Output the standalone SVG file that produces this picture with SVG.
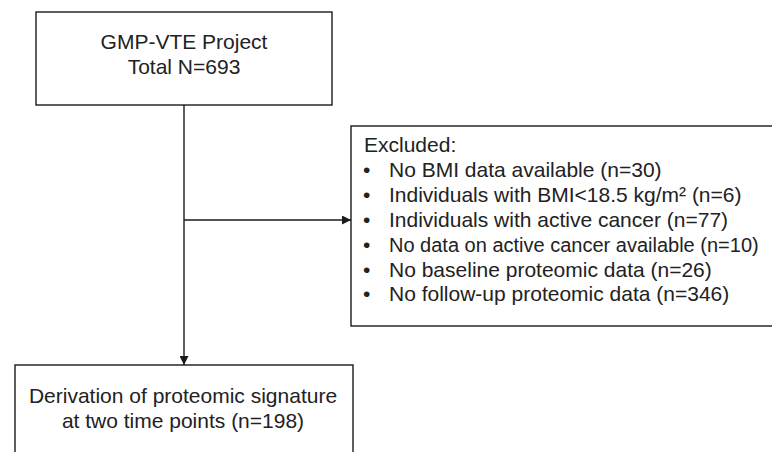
<svg xmlns="http://www.w3.org/2000/svg" width="772" height="452" viewBox="0 0 772 452">
  <style>
    .box { fill: #ffffff; stroke: #1a1a1a; stroke-width: 1.4; }
    .edge { fill: none; stroke: #1a1a1a; stroke-width: 1.4; }
    text { font-family: "Liberation Sans", Arial, sans-serif; font-size: 21px; fill: #222222; }
    .c { text-anchor: middle; }
  </style>
  <defs>
    <marker id="arrow" viewBox="0 0 10 10" refX="10" refY="5" markerWidth="9" markerHeight="9" markerUnits="userSpaceOnUse" orient="auto">
      <path d="M0,0 L10,5 L0,10 z" fill="#1a1a1a"/>
    </marker>
  </defs>
  <rect width="772" height="452" fill="#ffffff"/>

  <g id="connectors">
    <line class="edge" x1="184" y1="105" x2="184" y2="365" marker-end="url(#arrow)"/>
    <line class="edge" x1="184" y1="220" x2="351" y2="220" marker-end="url(#arrow)"/>
  </g>

  <g id="project">
    <rect class="box" x="36" y="12" width="296" height="93"/>
    <text class="c" x="184" y="49">GMP-VTE Project</text>
    <text class="c" x="184" y="74">Total N=693</text>
  </g>

  <g id="excluded">
    <rect class="box" x="351" y="126" width="440" height="200"/>
    <text x="364" y="152">Excluded:</text>
    <text x="363" y="177">•</text><text x="389" y="177">No BMI data available (n=30)</text>
    <text x="363" y="202">•</text><text x="389" y="202">Individuals with BMI&lt;18.5 kg/m² (n=6)</text>
    <text x="363" y="227">•</text><text x="389" y="227">Individuals with active cancer (n=77)</text>
    <text x="363" y="252">•</text><text x="389" y="252" style="font-size:20px">No data on active cancer available (n=10)</text>
    <text x="363" y="277">•</text><text x="389" y="277">No baseline proteomic data (n=26)</text>
    <text x="363" y="301">•</text><text x="389" y="301">No follow-up proteomic data (n=346)</text>
  </g>

  <g id="derivation">
    <rect class="box" x="15" y="365" width="338" height="100"/>
    <text class="c" x="183" y="403">Derivation of proteomic signature</text>
    <text class="c" x="183" y="428">at two time points (n=198)</text>
  </g>
</svg>
